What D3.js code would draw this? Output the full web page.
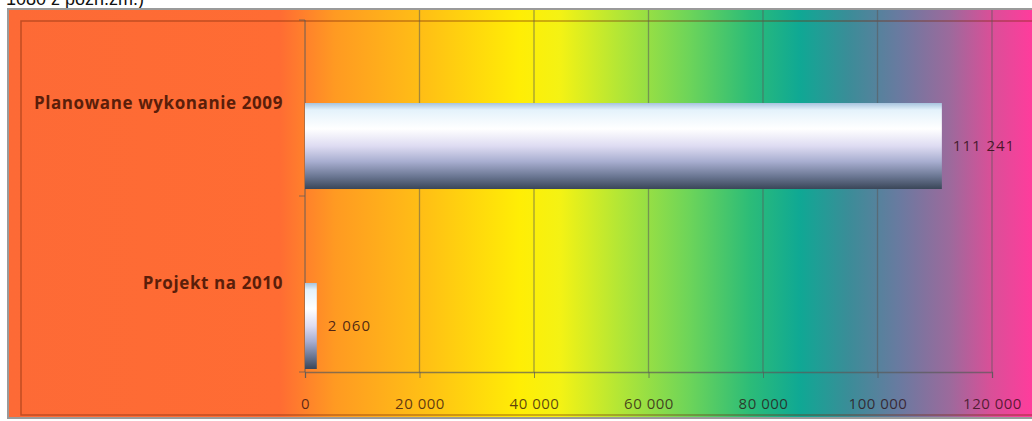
<!DOCTYPE html>
<html><head><meta charset="utf-8">
<script src="https://cdn.jsdelivr.net/npm/d3@7"></script>
<style>body{margin:0;background:#fff;overflow:hidden}svg{display:block}</style>
</head><body>
<script>
const categories = ["Planowane wykonanie 2009", "Projekt na 2010"];
const values = [111241, 2060];
const valueLabels = ["111 241", "2 060"];
const tickValues = [0, 20000, 40000, 60000, 80000, 100000, 120000];
const tickLabels = ["0", "20 000", "40 000", "60 000", "80 000", "100 000", "120 000"];

const W = 1032, H = 421;
const svg = d3.select("body").append("svg").attr("width", W).attr("height", H);
const defs = svg.append("defs");

const bg = defs.append("linearGradient").attr("id", "bg").attr("gradientUnits", "userSpaceOnUse")
  .attr("x1", 8).attr("x2", 1032).attr("y1", 0).attr("y2", 0);
[[8,"#fd6a36"],[280,"#ff6c33"],[335,"#ff9a22"],[430,"#ffc214"],[520,"#ffee05"],[560,"#f4f214"],[620,"#b2e636"],[690,"#6cd45a"],[750,"#2cbc78"],[800,"#0fa894"],[850,"#3c8c98"],[900,"#6a7aa0"],[950,"#9c6a9c"],[990,"#d85098"],[1032,"#ff3c9c"]]
  .forEach(([x,c]) => bg.append("stop").attr("offset", (x-8)/1024).attr("stop-color", c));

const bar = defs.append("linearGradient").attr("id", "bar").attr("x1", 0).attr("x2", 0).attr("y1", 0).attr("y2", 1);
[[0,"#a8c4de"],[0.08,"#e4f2fb"],[0.3,"#ffffff"],[0.5,"#dedcf2"],[0.68,"#a8aed0"],[0.85,"#6c7894"],[1,"#3a4658"]]
  .forEach(([o,c]) => bar.append("stop").attr("offset", o).attr("stop-color", c));

// top cut-off text (cut off at the top edge in the reference too)
svg.append("text").attr("x", -4).attr("y", 5).attr("font-family", "Liberation Sans, Arial, sans-serif")
  .attr("font-size", 18).attr("fill", "#111").text(": 1080 z pozn.zm.)");

// chart frame
svg.append("rect").attr("x", 8).attr("y", 9).attr("width", 1030).attr("height", 409).attr("fill", "url(#bg)")
  .attr("stroke", "#9a9a9a").attr("stroke-width", 2);
svg.append("rect").attr("x", 21).attr("y", 21).attr("width", 1020).attr("height", 394).attr("fill", "none")
  .attr("stroke", "rgba(120,40,10,0.45)").attr("stroke-width", 1.5);

const m = {left: 305, right: 992, top: 20, bottom: 372};
const x = d3.scaleLinear().domain([0, 120000]).range([m.left, m.right]);
const y = d3.scaleBand().domain(categories).range([m.top, m.bottom]).paddingInner(0.522).paddingOuter(0.239).align(0.965);

// gridlines
svg.append("g").selectAll("line").data(tickValues.slice(1)).join("line")
  .attr("x1", d => x(d)).attr("x2", d => x(d)).attr("y1", 10).attr("y2", m.bottom)
  .attr("stroke", "rgba(90,90,90,0.55)").attr("stroke-width", 1.3);

// x axis
const xAxis = d3.axisBottom(x).tickValues(tickValues).tickFormat((d,i) => tickLabels[i]).tickSize(6).tickPadding(20);
const gx = svg.append("g").attr("transform", `translate(0,${m.bottom})`).call(xAxis);
gx.select(".domain").attr("stroke", "rgba(90,90,90,0.7)").attr("stroke-width", 1.3);
gx.selectAll(".tick line").attr("stroke", "rgba(90,90,90,0.7)");
gx.selectAll(".tick text").attr("font-family", "Open Sans, sans-serif").attr("font-size", 15)
  .attr("letter-spacing", 0.5).attr("fill", "#2a0a10").attr("fill-opacity", 0.75);

// y axis line
const yBound = d3.scaleBand().domain(categories).range([m.top, m.bottom]);
svg.append("line").attr("x1", m.left).attr("x2", m.left).attr("y1", m.top).attr("y2", m.bottom)
  .attr("stroke", "rgba(90,90,90,0.7)").attr("stroke-width", 1.3);
svg.append("g").selectAll("line").data([m.top, yBound(categories[1]), m.bottom]).join("line")
  .attr("x1", m.left - 6).attr("x2", m.left).attr("y1", d => d).attr("y2", d => d)
  .attr("stroke", "rgba(90,90,90,0.7)");

// bars
svg.append("g").selectAll("rect").data(values).join("rect")
  .attr("x", x(0)).attr("y", (d,i) => y(categories[i]))
  .attr("width", d => x(d) - x(0)).attr("height", y.bandwidth())
  .attr("fill", "url(#bar)");

// value labels
svg.append("g").selectAll("text").data(values).join("text")
  .attr("x", d => x(d) + 11).attr("y", (d,i) => y(categories[i]) + y.bandwidth()/2 + 5)
  .attr("font-family", "Open Sans, sans-serif").attr("font-size", 15).attr("letter-spacing", 1)
  .attr("fill", "#2a0a10").attr("fill-opacity", 0.82).text((d,i) => valueLabels[i]);

// category labels
svg.append("g").selectAll("text").data(categories).join("text")
  .attr("x", 283).attr("y", d => y(d) + 6).attr("text-anchor", "end")
  .attr("font-family", "Open Sans, sans-serif").attr("font-weight", "bold").attr("font-size", 17)
  .attr("letter-spacing", 0.6).attr("fill", "#5a1e0a").text(d => d);
</script>
</body></html>
